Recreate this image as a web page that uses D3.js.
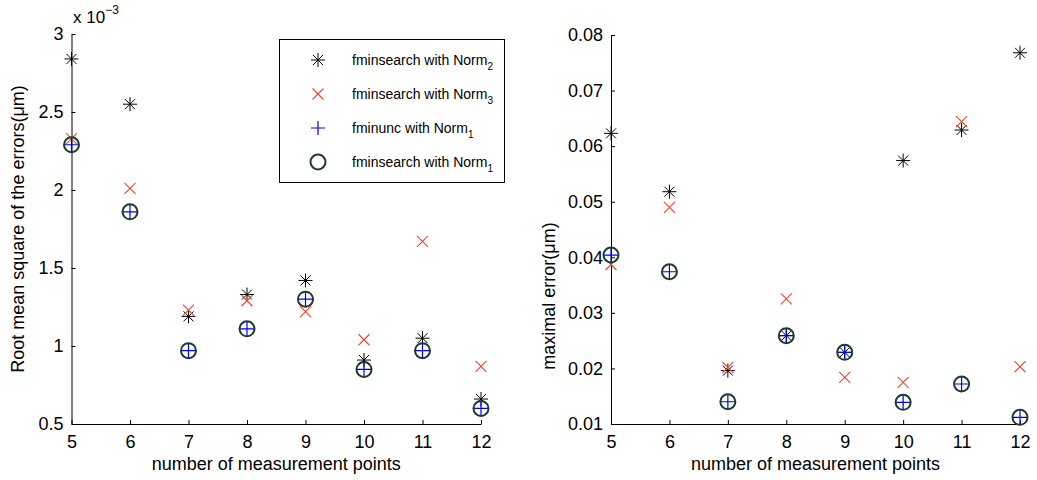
<!DOCTYPE html>
<html><head><meta charset="utf-8">
<script src="https://cdn.jsdelivr.net/npm/d3@7"></script>
<style>body{margin:0;background:#fff}svg{display:block}text{font-family:"Liberation Sans",Arial,sans-serif;fill:#000}</style>
</head><body>
<script>
const nPoints = [5, 6, 7, 8, 9, 10, 11, 12];
// left panel values (x 10^-3)
const rmsNorm2   = [2.84, 2.55, 1.19, 1.33, 1.42, 0.91, 1.05, 0.66];
const rmsNorm3   = [2.33, 2.01, 1.23, 1.29, 1.22, 1.04, 1.67, 0.87];
const rmsUnc1    = [2.29, 1.86, 0.97, 1.11, 1.30, 0.85, 0.97, 0.60];
const rmsSearch1 = [2.29, 1.86, 0.97, 1.11, 1.30, 0.85, 0.97, 0.60];
// right panel values
const maxNorm2   = [0.0623, 0.0518, 0.0196, 0.0259, 0.0229, 0.0574, 0.0629, 0.0768];
const maxNorm3   = [0.0387, 0.0490, 0.0202, 0.0325, 0.0184, 0.0175, 0.0644, 0.0203];
const maxUnc1    = [0.0404, 0.0374, 0.0140, 0.0259, 0.0229, 0.0139, 0.0172, 0.0112];
const maxSearch1 = [0.0404, 0.0374, 0.0140, 0.0259, 0.0229, 0.0139, 0.0172, 0.0112];
const leftYTicks = [0.5, 1, 1.5, 2, 2.5, 3];
const rightYTicks = [0.01, 0.02, 0.03, 0.04, 0.05, 0.06, 0.07, 0.08];
const legendLabels = [["fminsearch with Norm","2"],["fminsearch with Norm","3"],["fminunc with Norm","1"],["fminsearch with Norm","1"]];

const W = 1037, H = 480;
const svg = d3.select("body").append("svg").attr("width", W).attr("height", H);

const markers = {
  star: (g, x, y) => {
    const s = 7, d = 5;
    g.append("path").attr("d", `M${x-s},${y}H${x+s}M${x},${y-s}V${y+s}M${x-d},${y-d}L${x+d},${y+d}M${x-d},${y+d}L${x+d},${y-d}`)
      .attr("stroke", "#000").attr("stroke-width", 1).attr("fill", "none");
  },
  cross: (g, x, y) => {
    const d = 5.5;
    g.append("path").attr("d", `M${x-d},${y-d}L${x+d},${y+d}M${x-d},${y+d}L${x+d},${y-d}`)
      .attr("stroke", "#e8472d").attr("stroke-width", 1.1).attr("fill", "none");
  },
  plus: (g, x, y) => {
    const s = 7;
    g.append("path").attr("d", `M${x-s},${y}H${x+s}M${x},${y-s}V${y+s}`)
      .attr("stroke", "#0000ff").attr("stroke-width", 1.2).attr("fill", "none");
  },
  circle: (g, x, y) => {
    g.append("circle").attr("cx", x).attr("cy", y).attr("r", 7.5)
      .attr("stroke", "#1c3d2c").attr("stroke-width", 2).attr("fill", "none");
  }
};
const order = ["star", "cross", "plus", "circle"];

function panel(xr, yDomain, yRange, yTicks, seriesList, yFmt, ylabel, ylabelCenterY, ylabelX) {
  const x = d3.scaleLinear().domain([5, 12]).range(xr);
  const y = d3.scaleLinear().domain(yDomain).range(yRange);
  const g = svg.append("g");
  const xa = g.append("g").attr("transform", `translate(0,${yRange[0]})`)
    .call(d3.axisBottom(x).tickValues(nPoints).tickFormat(d3.format("d")).tickSizeInner(-4).tickSizeOuter(0).tickPadding(11));
  const ya = g.append("g").attr("transform", `translate(${xr[0]},0)`)
    .call(d3.axisLeft(y).tickValues(yTicks).tickFormat(yFmt).tickSizeInner(-4).tickSizeOuter(0).tickPadding(8));
  [xa, ya].forEach(a => {
    a.selectAll("path,line").attr("stroke", "#000").attr("stroke-width", 1);
    a.selectAll("text").attr("font-size", 18).attr("font-family", "Liberation Sans, Arial, sans-serif").attr("fill", "#000");
  });
  g.append("text").attr("x", (xr[0] + xr[1]) / 2).attr("y", 470).attr("text-anchor", "middle").attr("font-size", 18)
    .text("number of measurement points");
  g.append("text").attr("transform", `translate(${ylabelX},${ylabelCenterY}) rotate(-90)`).attr("text-anchor", "middle")
    .attr("font-size", 18).text(ylabel);
  seriesList.forEach((vals, si) => {
    const mg = g.append("g");
    vals.forEach((v, i) => markers[order[si]](mg, x(nPoints[i]), y(v)));
  });
  return g;
}

const gl = panel([71.5, 481], [0.5, 3], [424, 34], leftYTicks, [rmsNorm2, rmsNorm3, rmsUnc1, rmsSearch1],
  d => String(d), "Root mean square of the errors(\u03bcm)", 229, 24);
const ex = gl.append("text").attr("x", 73).attr("y", 23).attr("font-size", 17);
ex.append("tspan").text("x 10");
ex.append("tspan").attr("dy", -9).attr("font-size", 12).text("\u22123");

panel([611, 1020], [0.01, 0.08], [424, 35], rightYTicks, [maxNorm2, maxNorm3, maxUnc1, maxSearch1],
  d3.format(".2f"), "maximal error(\u03bcm)", 296, 555);

// legend
const lg = svg.append("g");
lg.append("rect").attr("x", 279.5).attr("y", 39.5).attr("width", 225).attr("height", 143)
  .attr("fill", "#fff").attr("stroke", "#000").attr("stroke-width", 1);
const rowY = [60, 94, 128, 162];
legendLabels.forEach((lab, i) => {
  markers[order[i]](lg, 318, rowY[i]);
  const t = lg.append("text").attr("x", 352).attr("y", rowY[i] + 5).attr("font-size", 14);
  t.append("tspan").text(lab[0]);
  t.append("tspan").attr("dy", 5).attr("font-size", 10).text(lab[1]);
});
</script>
</body></html>
